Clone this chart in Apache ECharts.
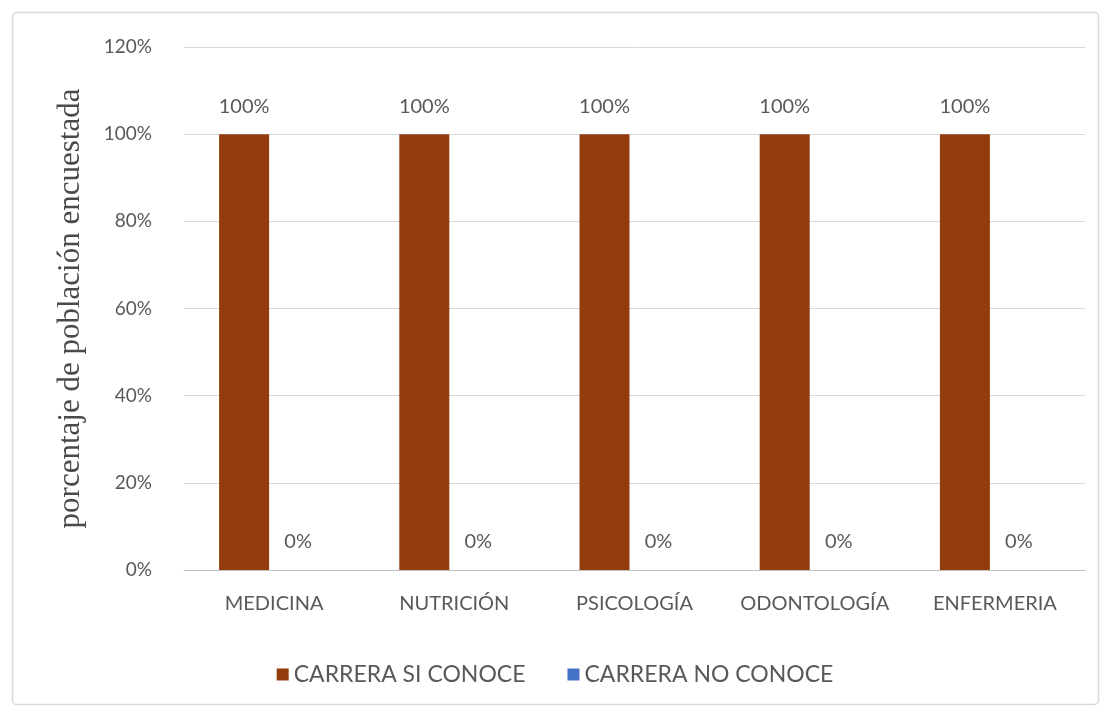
<!DOCTYPE html>
<html><head><meta charset="utf-8">
<script src="https://cdn.jsdelivr.net/npm/echarts@6/dist/echarts.min.js"></script>
<style>html,body{margin:0;padding:0;background:#fff}#c{width:1110px;height:717px}</style>
</head><body><div id="c"></div>
<script>
const categories = ['MEDICINA','NUTRICIÓN','PSICOLOGÍA','ODONTOLOGÍA','ENFERMERIA'];
const siConoce = [100,100,100,100,100];
const noConoce = [0,0,0,0,0];
const seriesNames = ['CARRERA SI CONOCE','CARRERA NO CONOCE'];
const yTicks = [0,20,40,60,80,100,120];

const chart = echarts.init(document.getElementById('c'));
const font = 'Lato, "Open Sans", sans-serif';
chart.setOption({
  animation:false,
  graphic:[{type:'rect',shape:{x:12.5,y:12.5,width:1086,height:692,r:4},style:{fill:'none',stroke:'#d9d9d9',lineWidth:1.5}}],
  grid:{left:184,right:25,top:47,bottom:147},
  legend:{bottom:26,left:'center',itemWidth:12,itemHeight:12,itemGap:42,icon:'rect',
    textStyle:{fontFamily:font,fontSize:23,color:'#595959'},data:seriesNames},
  xAxis:{type:'category',data:categories,axisTick:{show:false},
    axisLine:{lineStyle:{color:'#bfbfbf'}},
    axisLabel:{interval:0,fontFamily:font,fontSize:20,color:'#595959',margin:24}},
  yAxis:{type:'value',min:yTicks[0],max:yTicks[yTicks.length-1],interval:20,
    name:'porcentaje de población encuestada',nameLocation:'middle',nameGap:98,
    nameTextStyle:{fontFamily:'"Liberation Serif", serif',fontSize:31,color:'#4a4a4a'},
    axisLabel:{formatter:'{value}%',fontFamily:font,fontSize:19,color:'#595959',margin:32},
    splitLine:{lineStyle:{color:'#d9d9d9'}},axisLine:{show:false},axisTick:{show:false}},
  series:[
    {name:seriesNames[0],type:'bar',data:siConoce,barWidth:50,barGap:'20%',
     itemStyle:{color:'#923B0D'},
     label:{show:true,position:'top',distance:18,formatter:'{c}%',fontFamily:font,fontSize:20,color:'#595959'}},
    {name:seriesNames[1],type:'bar',data:noConoce,barWidth:50,
     itemStyle:{color:'#4472C4'},
     label:{show:true,position:'top',distance:18,offset:[-6,0],formatter:'{c}%',fontFamily:font,fontSize:20,color:'#595959'}}
  ]
});
</script></body></html>
